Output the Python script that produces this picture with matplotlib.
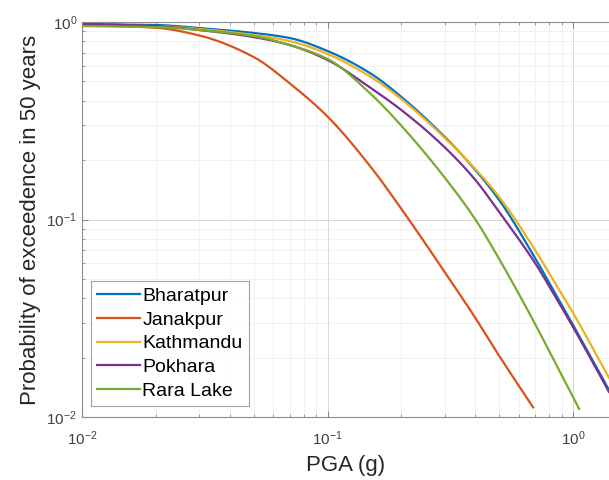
import numpy as np
import matplotlib
matplotlib.use('Agg')
import matplotlib.pyplot as plt
from matplotlib.ticker import LogLocator, NullFormatter

plt.rcParams['font.family'] = ['Liberation Sans', 'DejaVu Sans']
plt.rcParams['mathtext.default'] = 'regular'

# PGA (g) values
pga = [0.01, 0.02, 0.03, 0.05, 0.07, 0.1, 0.15, 0.2, 0.3, 0.4, 0.5, 0.7, 0.83, 1.0, 1.4]

bharatpur = [0.977, 0.966, 0.932, 0.880, 0.830, 0.713, 0.548, 0.417, 0.262,
             0.178, 0.1255, 0.0638, 0.0440, 0.0292, 0.0137]
kathmandu = [0.966, 0.954, 0.922, 0.859, 0.801, 0.689, 0.527, 0.407, 0.259,
             0.180, 0.130, 0.0701, 0.0494, 0.0336, 0.0158]
pokhara = [0.977, 0.954, 0.911, 0.839, 0.765, 0.642, 0.463, 0.358, 0.232,
           0.1585, 0.1091, 0.0602, 0.0424, 0.0285, 0.0134]

# shorter curves
pga_jan = [0.01, 0.02, 0.03, 0.05, 0.07, 0.1, 0.15, 0.2, 0.3, 0.4, 0.5, 0.687]
janakpur = [0.966, 0.935, 0.855, 0.665, 0.49, 0.332, 0.1844, 0.113, 0.0542,
            0.0317, 0.0204, 0.0112]
pga_rara = [0.01, 0.02, 0.03, 0.05, 0.07, 0.1, 0.15, 0.2, 0.3, 0.4, 0.5, 0.7, 0.83, 1.0, 1.058]
rara = [0.954, 0.943, 0.911, 0.849, 0.765, 0.650, 0.432, 0.298, 0.163,
        0.1, 0.0631, 0.0296, 0.0197, 0.0126, 0.0110]

names = ['Bharatpur', 'Janakpur', 'Kathmandu', 'Pokhara', 'Rara Lake']
colors = ['#0072BD', '#D95319', '#EDB120', '#7E2F8E', '#77AC30']


def pchip(x, y, xs):
    # monotone cubic (Fritsch-Carlson)
    x = np.asarray(x, float)
    y = np.asarray(y, float)
    h = np.diff(x)
    d = np.diff(y) / h
    m = np.zeros_like(y)
    m[0] = d[0]
    m[-1] = d[-1]
    for i in range(1, len(x) - 1):
        if d[i - 1] * d[i] <= 0:
            m[i] = 0
        else:
            w1 = 2 * h[i] + h[i - 1]
            w2 = h[i] + 2 * h[i - 1]
            m[i] = (w1 + w2) / (w1 / d[i - 1] + w2 / d[i])
    idx = np.clip(np.searchsorted(x, xs) - 1, 0, len(x) - 2)
    t = (xs - x[idx]) / h[idx]
    h00 = 2 * t**3 - 3 * t**2 + 1
    h10 = t**3 - 2 * t**2 + t
    h01 = -2 * t**3 + 3 * t**2
    h11 = t**3 - t**2
    return h00 * y[idx] + h10 * h[idx] * m[idx] + h01 * y[idx + 1] + h11 * h[idx] * m[idx + 1]


def main():
    fig = plt.figure(figsize=(6.09, 4.8), dpi=100)
    ax = fig.add_axes([0.1346, 0.1312, 0.8654, 0.823])

    series = [(pga, bharatpur), (pga_jan, janakpur), (pga, kathmandu),
              (pga, pokhara), (pga_rara, rara)]
    for (x, y), name, c in zip(series, names, colors):
        lx = np.log10(x)
        ly = np.log10(y)
        xs = np.linspace(lx[0], lx[-1], 400)
        ys = pchip(lx, ly, xs)
        ax.plot(10 ** xs, 10 ** ys, color=c, lw=1.6, label=name)

    ax.set_xscale('log')
    ax.set_yscale('log')
    ax.set_xlim(0.01, 1.4)
    ax.set_ylim(0.01, 1.0)

    ax.xaxis.set_major_locator(LogLocator(base=10, numticks=10))
    ax.yaxis.set_major_locator(LogLocator(base=10, numticks=10))
    ax.xaxis.set_minor_locator(LogLocator(base=10, subs=np.arange(2, 10), numticks=20))
    ax.yaxis.set_minor_locator(LogLocator(base=10, subs=np.arange(2, 10), numticks=20))
    ax.xaxis.set_minor_formatter(NullFormatter())
    ax.yaxis.set_minor_formatter(NullFormatter())

    ax.grid(True, which='major', color='#d9d9d9', lw=0.7)
    ax.grid(True, which='minor', color='#ececec', lw=0.5)
    ax.set_axisbelow(True)

    ax.spines['right'].set_visible(False)
    for s in ['left', 'bottom', 'top']:
        ax.spines[s].set_color('#8a8a8a')
        ax.spines[s].set_linewidth(0.8)
    ax.tick_params(which='both', direction='in', top=True, right=False,
                   colors='#8a8a8a', labelcolor='#404040', labelsize=11)
    ax.tick_params(which='major', length=4)
    ax.tick_params(which='minor', length=2)
    ax.tick_params(axis='x', pad=9)

    ax.set_xlabel('PGA (g)', fontsize=16, color='#262626', labelpad=5)
    ax.set_ylabel('Probability of exceedence in 50 years', fontsize=16,
                  color='#262626', labelpad=4)

    leg = ax.legend(loc='lower left', bbox_to_anchor=(0.017, 0.028), fontsize=14,
                    frameon=True, fancybox=False, handlelength=2.2,
                    handletextpad=0.15, borderpad=0.3, labelspacing=0.32,
                    borderaxespad=0.0)
    leg.get_frame().set_edgecolor('#8a8a8a')
    leg.get_frame().set_linewidth(0.8)

    plt.savefig('out.png', dpi=100)
    plt.close()


if __name__ == '__main__':
    main()
